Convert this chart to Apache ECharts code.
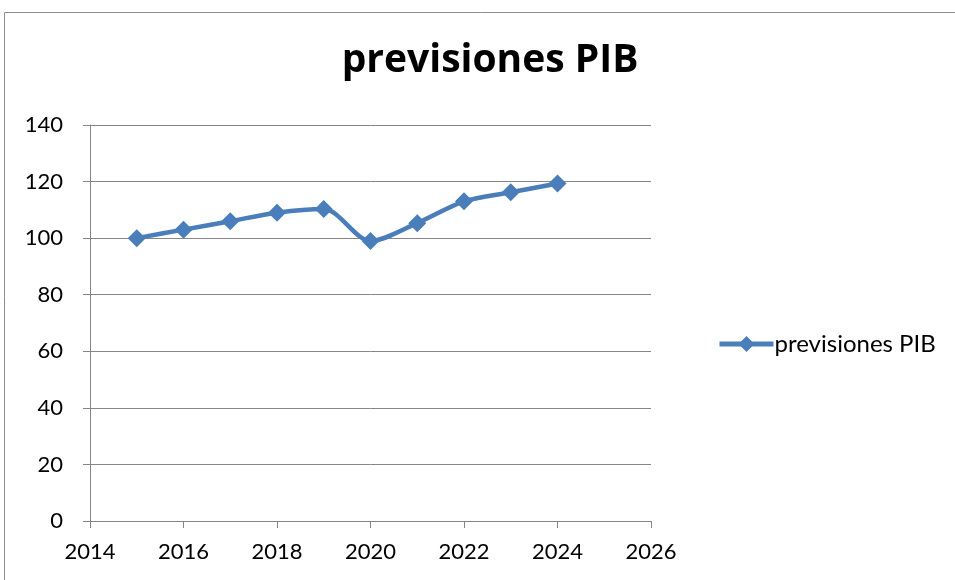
<!DOCTYPE html>
<html><head><meta charset="utf-8">
<script src="https://cdn.jsdelivr.net/npm/echarts@6/dist/echarts.min.js"></script>
<style>html,body{margin:0;padding:0;background:#fff}#c{width:955px;height:580px}</style>
</head><body><div id="c"></div>
<script>
var years = [2015, 2016, 2017, 2018, 2019, 2020, 2021, 2022, 2023, 2024];
var pib = [100, 103, 106, 109, 110.3, 99, 105.3, 113, 116.2, 119.3];
var seriesName = 'previsiones PIB';
var titleText = 'previsiones PIB';
var font = 'Lato';
var chart = echarts.init(document.getElementById('c'));
chart.setOption({
  animation: false,
  backgroundColor: '#fff',
  graphic: [{type: 'rect', shape: {x: 4.5, y: 12.5, width: 1000, height: 700}, style: {fill: 'none', stroke: '#8c8c8c', lineWidth: 1}}],
  title: {text: titleText, left: 485, top: 36, textAlign: 'center', textStyle: {fontFamily: '"Open Sans"', fontSize: 39, fontWeight: 'bold', color: '#000'}},
  legend: {left: 712, top: 327, itemWidth: 54, itemHeight: 20, itemGap: 0,
    lineStyle: {width: 5},
    textStyle: {fontFamily: font, fontSize: 24, color: '#000', padding: [0,0,0,-4]},
    data: [{name: seriesName}]},
  grid: {left: 90, right: 304, top: 125, bottom: 59},
  xAxis: {type: 'value', min: 2014, max: 2026, interval: 2,
    axisLine: {lineStyle: {color: '#868686', width: 1}},
    axisTick: {show: true, length: 7, lineStyle: {color: '#868686'}},
    splitLine: {show: false},
    axisLabel: {fontFamily: font, fontSize: 22, color: '#000', margin: 20, formatter: function(v){return String(v);}}},
  yAxis: {type: 'value', min: 0, max: 140, interval: 20,
    axisLine: {show: true, lineStyle: {color: '#868686', width: 1}},
    axisTick: {show: true, length: 7, lineStyle: {color: '#868686'}},
    splitLine: {lineStyle: {color: '#868686', width: 1}},
    axisLabel: {fontFamily: font, fontSize: 22, color: '#000', margin: 27}},
  series: [{name: seriesName, type: 'line', smooth: 0.3, data: years.map(function(y,i){return [y, pib[i]];}),
    symbol: 'diamond', symbolSize: 18, lineStyle: {color: '#4a7ebb', width: 4.5}, itemStyle: {color: '#4a7ebb'}}]
});
</script></body></html>
